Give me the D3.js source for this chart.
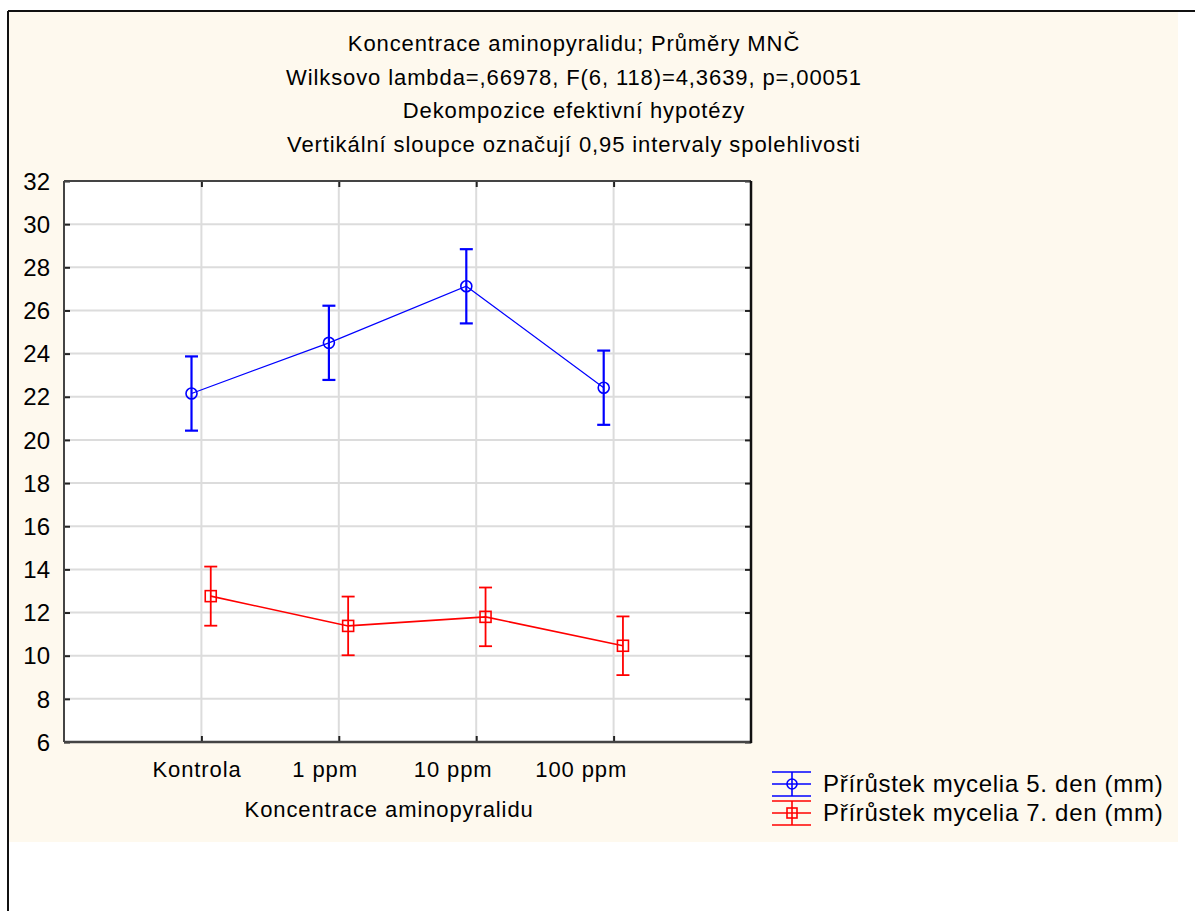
<!DOCTYPE html>
<html>
<head>
<meta charset="utf-8">
<script src="https://cdn.jsdelivr.net/npm/d3@7"></script>
<style>
  html, body { margin: 0; padding: 0; background: #fff; }
  svg { display: block; }
  text { font-family: "Liberation Sans", Arial, sans-serif; fill: #000; }
</style>
</head>
<body>
<div id="chart"></div>
<script>
/* data */
const categories = ['Kontrola', '1 ppm', '10 ppm', '100 ppm'];
const seriesNames = ['Přírůstek mycelia 5. den (mm)', 'Přírůstek mycelia 7. den (mm)'];
const day5Mean = [22.15, 24.50, 27.12, 22.42];
const day5Ci = [1.72, 1.72, 1.72, 1.72];
const day7Mean = [12.76, 11.38, 11.80, 10.46];
const day7Ci = [1.37, 1.36, 1.36, 1.36];
const yTicks = [6, 8, 10, 12, 14, 16, 18, 20, 22, 24, 26, 28, 30, 32];
const titleLines = [
  'Koncentrace aminopyralidu; Průměry MNČ',
  'Wilksovo lambda=,66978, F(6, 118)=4,3639, p=,00051',
  'Dekompozice efektivní hypotézy',
  'Vertikální sloupce označují 0,95 intervaly spolehlivosti'
];
const xTitle = 'Koncentrace aminopyralidu';

const W = 1195, H = 911;
const plot = { left: 64, top: 181, right: 751, bottom: 742 };
const colors = ['#0000ff', '#ff0000'];

const svg = d3.select('#chart').append('svg').attr('width', W).attr('height', H);

/* panel background + frame */
svg.append('rect').attr('x', 8).attr('y', 11).attr('width', 1170).attr('height', 831).attr('fill', '#fef9ee');
svg.append('line').attr('x1', 8).attr('x2', W).attr('y1', 11).attr('y2', 11).attr('stroke', '#111').attr('stroke-width', 2);
svg.append('line').attr('x1', 8).attr('x2', 8).attr('y1', 11).attr('y2', H).attr('stroke', '#111').attr('stroke-width', 2);

/* title */
svg.append('g').selectAll('text').data(titleLines).join('text')
  .attr('x', 574).attr('y', (d, i) => 51 + i * 33.7)
  .attr('text-anchor', 'middle')
  .style('font-size', '22px').style('letter-spacing', '0.9px')
  .text(d => d);

/* scales */
const x = d3.scaleLinear().domain([0, categories.length + 1]).range([plot.left, plot.right]);
// labels in the original sit on a slightly tighter spacing
const xl = d3.scaleLinear().domain([0, categories.length + 1]).range([plot.left + 5, plot.left + 5 + (plot.right - plot.left) * 0.932]);
const y = d3.scaleLinear().domain([6, 32]).range([plot.bottom, plot.top]);
const idx = categories.map((c, i) => i + 1);

svg.append('rect').attr('x', plot.left).attr('y', plot.top)
  .attr('width', plot.right - plot.left).attr('height', plot.bottom - plot.top).attr('fill', '#fff');

/* grid */
const grid = svg.append('g').attr('stroke', '#dcdcdc').attr('stroke-width', 2);
grid.selectAll('.gy').data(yTicks.slice(1, -1)).join('line')
  .attr('x1', plot.left).attr('x2', plot.right).attr('y1', d => y(d)).attr('y2', d => y(d));
grid.selectAll('.gx').data(idx).join('line')
  .attr('y1', plot.top).attr('y2', plot.bottom).attr('x1', d => x(d)).attr('x2', d => x(d));

/* axes */
const yAxis = svg.append('g').attr('transform', `translate(${plot.left},0)`)
  .call(d3.axisLeft(y).tickValues(yTicks).tickSize(-6).tickPadding(14).tickFormat(d3.format('d')));
yAxis.selectAll('text').style('font-size', '24px').attr('dy', '0.34em');
const yAxisR = svg.append('g').attr('transform', `translate(${plot.right},0)`)
  .call(d3.axisRight(y).tickValues(yTicks).tickSize(-6).tickFormat(''));
const xAxisB = svg.append('g').attr('transform', `translate(0,${plot.bottom})`)
  .call(d3.axisBottom(x).tickValues(idx).tickSize(-6).tickFormat(''));
const xAxisT = svg.append('g').attr('transform', `translate(0,${plot.top})`)
  .call(d3.axisTop(x).tickValues(idx).tickSize(-6).tickFormat(''));
[yAxis, yAxisR, xAxisB, xAxisT].forEach(a => {
  a.select('.domain').remove();
  a.selectAll('line').attr('stroke', '#222').attr('stroke-width', 2);
});
svg.append('line').attr('x1', plot.left).attr('x2', plot.right).attr('y1', plot.top).attr('y2', plot.top).attr('stroke', '#444').attr('stroke-width', 2);
svg.append('line').attr('x1', plot.left).attr('x2', plot.left).attr('y1', plot.top).attr('y2', plot.bottom).attr('stroke', '#444').attr('stroke-width', 2);
svg.append('line').attr('x1', plot.left).attr('x2', plot.right + 1).attr('y1', plot.bottom).attr('y2', plot.bottom).attr('stroke', '#444').attr('stroke-width', 2.5);
svg.append('line').attr('x1', plot.right).attr('x2', plot.right).attr('y1', plot.top).attr('y2', plot.bottom + 1).attr('stroke', '#111').attr('stroke-width', 2.5);

/* category labels + x title */
svg.append('g').selectAll('text').data(categories).join('text')
  .attr('x', (d, i) => xl(i + 1)).attr('y', 777)
  .attr('text-anchor', 'middle').style('font-size', '22px').style('letter-spacing', '0.9px')
  .text(d => d);
svg.append('text').attr('x', xl((categories.length + 1) / 2)).attr('y', 817)
  .attr('text-anchor', 'middle').style('font-size', '22px').style('letter-spacing', '0.9px')
  .text(xTitle);

/* series */
const series = [
  { name: seriesNames[0], mean: day5Mean, ci: day5Ci, color: colors[0], marker: 'circle', dodge: -0.072, bar: 2.2, line: 1.2 },
  { name: seriesNames[1], mean: day7Mean, ci: day7Ci, color: colors[1], marker: 'square', dodge: 0.068, bar: 1.8, line: 1.6 }
];
const capW = 13, mk = 11;

series.forEach(s => {
  const pts = s.mean.map((m, i) => ({ x: x(i + 1 + s.dodge), m, lo: m - s.ci[i], hi: m + s.ci[i] }));
  const g = svg.append('g');
  g.append('path').datum(pts)
    .attr('d', d3.line().x(d => d.x).y(d => y(d.m)))
    .attr('fill', 'none').attr('stroke', s.color).attr('stroke-width', s.line);
  const eb = g.selectAll('.eb').data(pts).join('g').attr('stroke', s.color).attr('stroke-width', s.bar);
  eb.append('line').attr('x1', d => d.x).attr('x2', d => d.x).attr('y1', d => y(d.lo)).attr('y2', d => y(d.hi));
  eb.append('line').attr('x1', d => d.x - capW / 2).attr('x2', d => d.x + capW / 2).attr('y1', d => y(d.hi)).attr('y2', d => y(d.hi));
  eb.append('line').attr('x1', d => d.x - capW / 2).attr('x2', d => d.x + capW / 2).attr('y1', d => y(d.lo)).attr('y2', d => y(d.lo));
  if (s.marker === 'circle') {
    g.selectAll('.mk').data(pts).join('circle')
      .attr('cx', d => d.x).attr('cy', d => y(d.m)).attr('r', mk / 2)
      .attr('fill', 'none').attr('stroke', s.color).attr('stroke-width', 1.6);
  } else {
    g.selectAll('.mk').data(pts).join('rect')
      .attr('x', d => d.x - mk / 2).attr('y', d => y(d.m) - mk / 2).attr('width', mk).attr('height', mk)
      .attr('fill', 'none').attr('stroke', s.color).attr('stroke-width', 1.6);
  }
});

/* legend */
const leg = svg.append('g').attr('transform', 'translate(772,784)');
series.forEach((s, i) => {
  const g = leg.append('g').attr('transform', `translate(0,${i * 29})`).attr('stroke', s.color);
  g.append('line').attr('x1', 0).attr('x2', 39).attr('y1', -12).attr('y2', -12).attr('stroke-width', 1.6);
  g.append('line').attr('x1', 0).attr('x2', 39).attr('y1', 0).attr('y2', 0).attr('stroke-width', 1.6);
  g.append('line').attr('x1', 0).attr('x2', 39).attr('y1', 12).attr('y2', 12).attr('stroke-width', 1.6);
  g.append('line').attr('x1', 20).attr('x2', 20).attr('y1', -12).attr('y2', 12).attr('stroke-width', 1.6);
  if (s.marker === 'circle') {
    g.append('circle').attr('cx', 20).attr('cy', 0).attr('r', 5).attr('fill', 'none').attr('stroke-width', 1.6);
  } else {
    g.append('rect').attr('x', 15).attr('y', -5).attr('width', 10).attr('height', 10).attr('fill', 'none').attr('stroke-width', 1.6);
  }
  leg.append('text').attr('x', 51).attr('y', 8 + i * 29)
    .style('font-size', '24px').style('letter-spacing', '0.7px')
    .text(s.name);
});
</script>
</body>
</html>
